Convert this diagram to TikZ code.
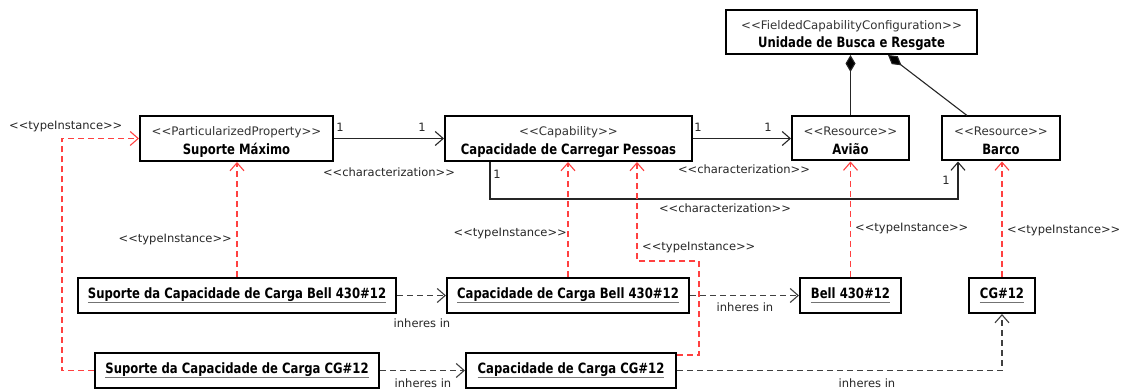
\documentclass[tikz,border=0pt]{standalone}
\usepackage{fontspec}
\setmainfont{DejaVu Sans}[Ligatures=TeXOff]
\newfontfamily\namefont{DejaVu Sans}[FakeStretch=0.82,Ligatures=TeXOff]
\usetikzlibrary{arrows.meta}
\definecolor{tiRed}{RGB}{255,64,64}
\definecolor{inhGray}{RGB}{64,64,64}
% underlined instance name
\newcommand\objname[1]{\setbox0\hbox{#1}\rlap{\usebox0}{\color{black!55}\rule[-4pt]{\wd0}{1.1pt}}}
% class box: name, centre, width, height, stereotype, class name
\newcommand\classbox[6]{%
  \node[box,minimum width=#3,minimum height=#4] (#1) at (#2) {};
  \node[stereo,anchor=base] (#1-st) at ([yshift=2.8pt]#1.center) {#5};
  \node[title,anchor=base] (#1-nm) at ([yshift=-15.8pt]#1.center) {#6};}
\begin{document}
\begin{tikzpicture}[x=1pt,y=-1pt,
  box/.style={draw,line width=2pt,fill=white,inner sep=0pt},
  stereo/.style={inner sep=0pt,text=black!80,font=\fontsize{11.8}{14}\selectfont},
  title/.style={inner sep=0pt,font=\namefont\bfseries\fontsize{14.2}{16}\selectfont},
  inst/.style={draw,line width=2pt,fill=white,inner sep=0pt,minimum height=35pt,
    font=\namefont\bfseries\fontsize{14.2}{16}\selectfont},
  lbl/.style={font=\fontsize{11.5}{14}\selectfont,text=black!85,inner sep=0pt},
  open/.style={-{Straight Barb[length=8pt,width=14pt,line width=1.1pt]}},
  assoc/.style={draw=black!85,line width=1.1pt,open},
  typeinst/.style={draw=tiRed,line width=1.1pt,dash pattern=on 6pt off 4pt,open},
  inheres/.style={draw=inhGray,line width=1.1pt,dash pattern=on 6pt off 4pt,open},
  comp/.style={draw=black!85,line width=1.1pt,-{Diamond[length=17pt,width=10pt,fill=black]}},
]
\useasboundingbox (0,0) rectangle (1122,390);

% classes
\classbox{fcc}{851.5,32}{251pt}{44pt}{<<FieldedCapabilityConfiguration>>}{Unidade de Busca e Resgate}
\classbox{sm}{236.5,138.5}{193pt}{45pt}{<<ParticularizedProperty>>}{Suporte Máximo}
\classbox{ccp}{568.5,138.5}{247pt}{45pt}{<<Capability>>}{Capacidade de Carregar Pessoas}
\classbox{aviao}{850.5,138.5}{117pt}{44pt}{<<Resource>>}{Avião}
\classbox{barco}{1001,138.5}{118pt}{44pt}{<<Resource>>}{Barco}

% instances
\node[inst,minimum width=318pt] (sbell) at (237,295.5)
  {\objname{Suporte da Capacidade de Carga Bell 430\#12}};
\node[inst,minimum width=242pt] (cbell) at (568,295.5)
  {\objname{Capacidade de Carga Bell 430\#12}};
\node[inst,minimum width=101pt] (bell) at (850.5,295.5)
  {\objname{Bell 430\#12}};
\node[inst,minimum width=66pt] (cg) at (1002,295.5)
  {\objname{CG\#12}};
\node[inst,minimum width=284pt] (scg) at (237,370.5)
  {\objname{Suporte da Capacidade de Carga CG\#12}};
\node[inst,minimum width=210pt] (ccg) at (571,370.5)
  {\objname{Capacidade de Carga CG\#12}};

% characterization associations
\draw[assoc] (sm) -- (ccp);
\draw[assoc] (ccp) -- (aviao);
\draw[assoc] ([xshift=46pt]ccp.south west) -- ++(0,37) -| ([xshift=17pt]barco.south west);

% composition
\draw[comp] (aviao.north) -- (aviao.north |- fcc.south);
\draw[comp] ([xshift=26pt]barco.north west) -- ([xshift=36.5pt]fcc.south);

% type instances
\draw[typeinst] (sbell.north) -- (sbell.north |- sm.south);
\draw[typeinst] (scg.west) -- ++(-32,0) |- (sm.west);
\draw[typeinst] (cbell.north) -- (cbell.north |- ccp.south);
\draw[typeinst] ([yshift=-3pt]ccg.north east) -- ++(22,0) -- ++(0,-94) -| ([xshift=68.5pt]ccp.south);
\draw[typeinst] (bell.north) -- (aviao.south);
\draw[typeinst] (cg.north) -- (cg.north |- barco.south);

% inheres in
\draw[inheres] (sbell) -- (cbell);
\draw[inheres] (cbell) -- (bell);
\draw[inheres] (scg) -- (ccg);
\draw[inheres] (ccg.east) -| (cg.south);

% multiplicities
\node[lbl] (m1) at (340,127) {1};
\node[lbl] (m2) at (422,127) {1};
\node[lbl] (m3) at (698,127) {1};
\node[lbl] (m4) at (768,127) {1};
\node[lbl] (m5) at (497,174) {1};
\node[lbl] (m6) at (946,180) {1};

% association labels
\node[lbl] (c1) at (389,172) {<<characterization>>};
\node[lbl] (c2) at (744,169) {<<characterization>>};
\node[lbl] (c3) at (725,208) {<<characterization>>};
\node[lbl,anchor=west] (t1) at (9,127) {<<typeInstance>>};
\node[lbl,anchor=east] (t2) at (232,240) {<<typeInstance>>};
\node[lbl,anchor=east] (t3) at (567,234) {<<typeInstance>>};
\node[lbl,anchor=west] (t4) at (642,248) {<<typeInstance>>};
\node[lbl,anchor=west] (t5) at (855,229) {<<typeInstance>>};
\node[lbl,anchor=west] (t6) at (1007,231) {<<typeInstance>>};
\node[lbl] (i1) at (422,323) {inheres in};
\node[lbl] (i2) at (745,307) {inheres in};
\node[lbl] (i3) at (423,383) {inheres in};
\node[lbl] (i4) at (867,383) {inheres in};
\end{tikzpicture}
\end{document}
